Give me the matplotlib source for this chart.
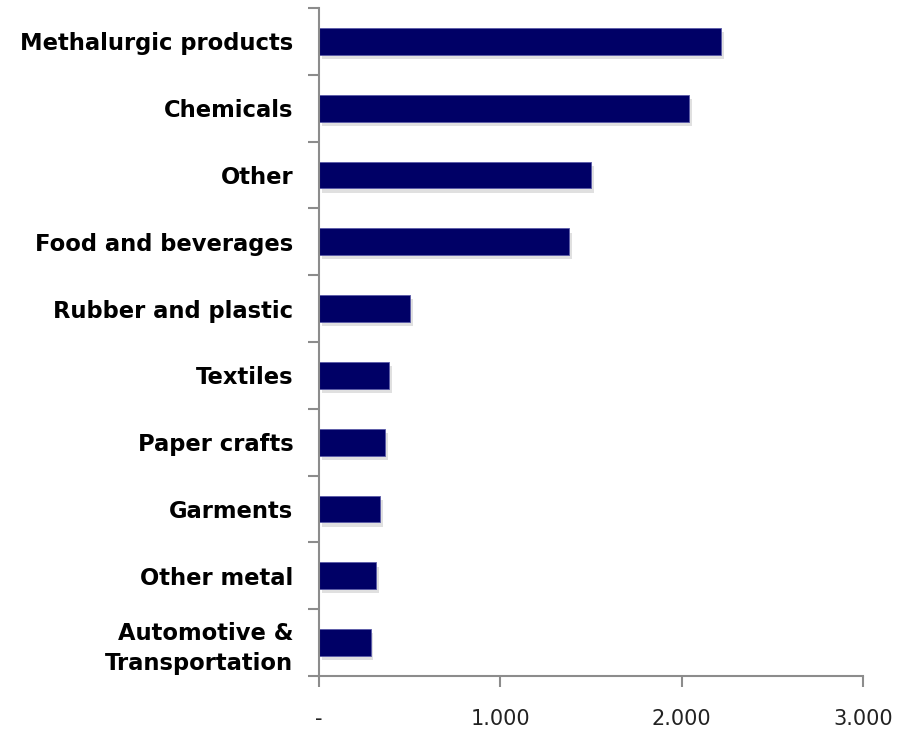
import matplotlib
matplotlib.use("Agg")
import matplotlib.pyplot as plt
import matplotlib.patheffects as pe
from matplotlib.ticker import FixedLocator, FuncFormatter

categories = ["Methalurgic products", "Chemicals", "Other", "Food and beverages",
              "Rubber and plastic", "Textiles", "Paper crafts", "Garments",
              "Other metal", "Automotive &\nTransportation"]
values = [2217, 2041, 1500, 1378, 502, 386, 366, 338, 313, 285]
x_ticks = [0, 1000, 2000, 3000]

fig = plt.figure(figsize=(9.08, 7.32), dpi=100)
ax = fig.add_axes([0.3513, 0.0765, 0.5991, 0.9125])

pos = list(range(len(categories)))
bars = ax.barh(pos, values, height=0.4, color="#000066", edgecolor="#5a5aa8", linewidth=0.6)
for b in bars:
    b.set_path_effects([pe.SimplePatchShadow(offset=(2, -3), shadow_rgbFace="#999999", alpha=0.3),
                        pe.Normal()])

ax.set_ylim(len(categories) - 0.5, -0.5)
ax.set_xlim(0, 3000)

ax.set_yticks(pos)
ax.set_yticklabels(categories, fontsize=16.3, fontweight="bold", family="DejaVu Sans",
                   linespacing=1.4)
ax.yaxis.set_minor_locator(FixedLocator([p + 0.5 for p in pos] + [-0.5]))
ax.tick_params(axis="y", which="major", length=0, pad=18.5)
ax.tick_params(axis="y", which="minor", length=8, width=1.5, color="#8c8c8c", direction="out")

ax.xaxis.set_major_locator(FixedLocator(x_ticks))
ax.xaxis.set_major_formatter(FuncFormatter(lambda v, p: "-" if v == 0 else f"{int(v):,}".replace(",", ".")))
ax.tick_params(axis="x", length=8, width=1.5, color="#8c8c8c", labelsize=15, pad=16,
               labelcolor="#222222")

for s in ["top", "right"]:
    ax.spines[s].set_visible(False)
for s in ["left", "bottom"]:
    ax.spines[s].set_color("#8c8c8c")
    ax.spines[s].set_linewidth(1.5)

fig.savefig("out.png", dpi=100)
